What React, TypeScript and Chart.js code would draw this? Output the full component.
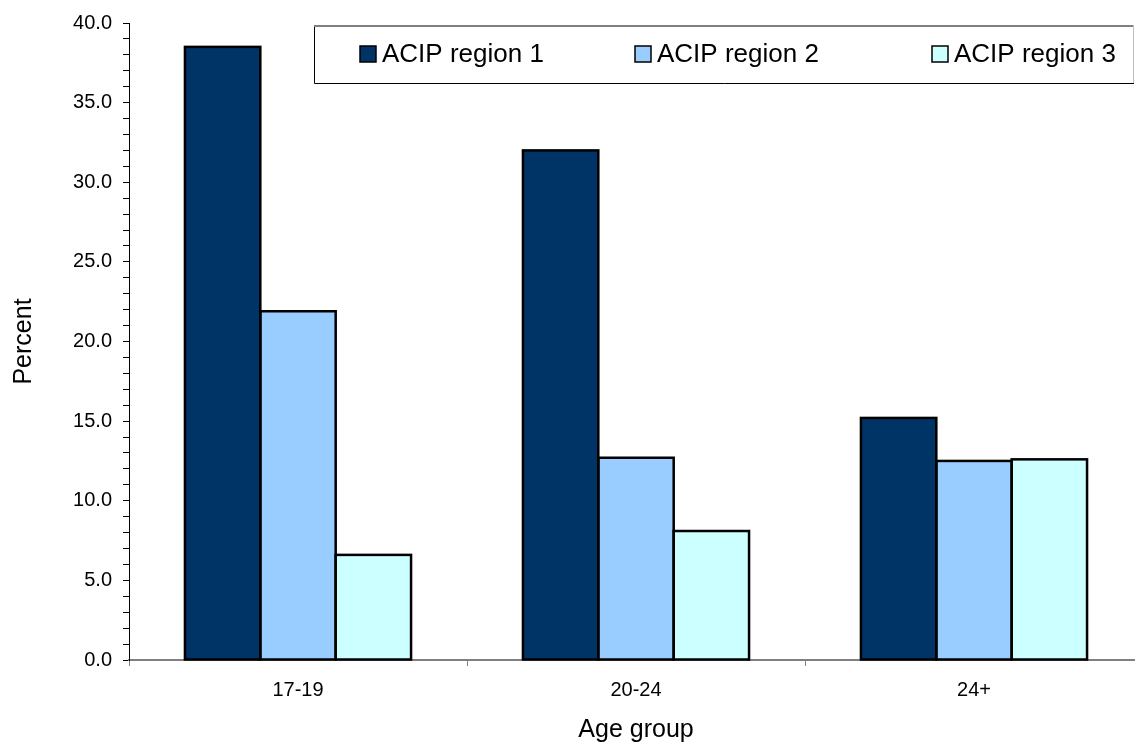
import React, { useEffect, useRef } from "react";
import { Chart, registerables } from "chart.js";

Chart.register(...registerables);

const categories = ["17-19", "20-24", "24+"];
const seriesNames = ["ACIP region 1", "ACIP region 2", "ACIP region 3"];
const region1 = [38.5, 32.0, 15.2];
const region2 = [21.9, 12.7, 12.5];
const region3 = [6.6, 8.1, 12.6];
const seriesColors = ["#003366", "#99CCFF", "#CCFFFF"];
const yTickValues = [0, 5, 10, 15, 20, 25, 30, 35, 40];

const FONT = "'Liberation Sans', Arial, sans-serif";

const barOutlinePlugin = {
  id: "barOutline",
  afterDatasetsDraw(chart: any) {
    const { ctx } = chart;
    ctx.save();
    ctx.strokeStyle = "#000000";
    ctx.lineWidth = 2.5;
    chart.data.datasets.forEach((_: any, di: number) => {
      const meta = chart.getDatasetMeta(di);
      meta.data.forEach((el: any) => {
        const p = el.getProps(["x", "y", "base", "width"], true);
        const left = p.x - p.width / 2;
        const top = Math.min(p.y, p.base);
        const h = Math.abs(p.base - p.y);
        ctx.strokeRect(left, top, p.width, h);
      });
    });
    ctx.restore();
  },
};

const legendPlugin = {
  id: "boxLegend",
  afterDraw(chart: any) {
    const { ctx, chartArea } = chart;
    const left = chartArea.left + 185;
    const top = chartArea.top + 2;
    const right = chartArea.right - 9;
    const bottom = top + 58;
    ctx.save();
    ctx.fillStyle = "#ffffff";
    ctx.fillRect(left, top, right - left, bottom - top);
    ctx.lineWidth = 1;
    ctx.strokeStyle = "#000000";
    ctx.beginPath();
    ctx.moveTo(left + 0.5, top);
    ctx.lineTo(left + 0.5, bottom + 0.5);
    ctx.lineTo(right, bottom + 0.5);
    ctx.stroke();
    ctx.strokeStyle = "#808080";
    ctx.lineWidth = 2;
    ctx.beginPath();
    ctx.moveTo(left, top + 1);
    ctx.lineTo(right, top + 1);
    ctx.stroke();
    ctx.strokeStyle = "#c0c0c0";
    ctx.lineWidth = 1;
    ctx.beginPath();
    ctx.moveTo(right - 0.5, top);
    ctx.lineTo(right - 0.5, bottom);
    ctx.stroke();

    ctx.font = `26px ${FONT}`;
    ctx.textBaseline = "middle";
    ctx.textAlign = "left";
    const cy = top + 29;
    const itemOffsets = [46, 321, 618];
    seriesNames.forEach((name, i) => {
      const x = left + itemOffsets[i];
      ctx.fillStyle = seriesColors[i];
      ctx.fillRect(x, cy - 8, 16, 16);
      ctx.strokeStyle = "#000000";
      ctx.lineWidth = 1.5;
      ctx.strokeRect(x, cy - 8, 16, 16);
      ctx.fillStyle = "#000000";
      ctx.fillText(name, x + 22, cy + 1);
    });
    ctx.restore();
  },
};

export default function App() {
  const ref = useRef<HTMLCanvasElement>(null);

  useEffect(() => {
    if (!ref.current) return;
    const datasets = [region1, region2, region3].map((d, i) => ({
      label: seriesNames[i],
      data: d,
      backgroundColor: seriesColors[i],
      borderWidth: 0,
      inflateAmount: 0.5,
      categoryPercentage: 0.669,
      barPercentage: 1.0,
    }));
    const chart = new Chart(ref.current, {
      type: "bar",
      data: { labels: categories, datasets },
      options: {
        animation: false,
        responsive: false,
        maintainAspectRatio: false,
        layout: { padding: { top: 23, right: 2, left: 0, bottom: 0 } },
        plugins: {
          legend: { display: false },
          tooltip: { enabled: false },
        },
        scales: {
          x: {
            offset: true,
            grid: {
              offset: true,
              drawOnChartArea: false,
              drawTicks: true,
              tickLength: 6,
              tickColor: "#808080",
            },
            border: { color: "#808080", width: 2 },
            ticks: {
              color: "#000000",
              font: { family: FONT, size: 20 },
              padding: 12,
              maxRotation: 0,
            },
            title: {
              display: true,
              text: "Age group",
              color: "#000000",
              font: { family: FONT, size: 25 },
              padding: { top: 0, bottom: 0 },
            },
            afterFit(scale: any) {
              scale.height = 85;
            },
          },
          y: {
            min: 0,
            max: 40,
            afterBuildTicks(scale: any) {
              const t: any[] = [];
              for (let v = 0; v <= 40; v += 1) t.push({ value: v });
              scale.ticks = t;
            },
            ticks: {
              autoSkip: false,
              color: "#000000",
              font: { family: FONT, size: 20 },
              padding: 11,
              callback: (v: any) =>
                yTickValues.includes(Number(v)) ? Number(v).toFixed(1) : "",
            },
            grid: {
              drawOnChartArea: false,
              drawTicks: true,
              tickLength: 6,
              tickColor: "#000000",
            },
            border: { color: "#000000", width: 1 },
            title: {
              display: true,
              text: "Percent",
              color: "#000000",
              font: { family: FONT, size: 25 },
              padding: { top: 9, bottom: 0 },
            },
            afterFit(scale: any) {
              scale.width = 129;
            },
          },
        },
      },
      plugins: [barOutlinePlugin, legendPlugin],
    });
    return () => chart.destroy();
  }, []);

  return (
    <div style={{ position: "fixed", left: 0, top: 0, width: 1135, height: 745, overflow: "hidden", background: "#ffffff" }}>
      <canvas ref={ref} width={1145} height={745} style={{ width: 1145, height: 745, display: "block" }} />
    </div>
  );
}
